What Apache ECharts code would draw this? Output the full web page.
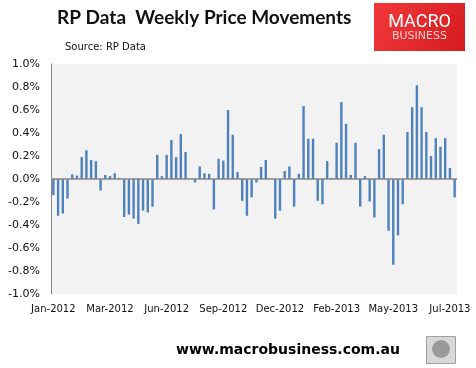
<!DOCTYPE html>
<html>
<head>
<meta charset="utf-8">
<script src="https://cdn.jsdelivr.net/npm/echarts@6/dist/echarts.min.js"></script>
<style>
html,body{margin:0;padding:0;background:#fff;}
#chart{width:476px;height:368px;}
</style>
</head>
<body>
<div id="chart"></div>
<script>
// Weekly price movements (%), Jan-2012 .. Jul-2013
var values = [
  -0.14, -0.32, -0.30, -0.17, 0.04, 0.03, 0.19, 0.25, 0.165, 0.155,
  -0.10, 0.035, 0.025, 0.05, 0.01, -0.33, -0.31, -0.345, -0.39, -0.275,
  -0.29, -0.24, 0.21, 0.025, 0.21, 0.34, 0.19, 0.39, 0.235, 0,
  -0.03, 0.11, 0.05, 0.045, -0.265, 0.175, 0.16, 0.60, 0.385, 0.06,
  -0.19, -0.32, -0.16, -0.03, 0.105, 0.165, 0, -0.345, -0.275, 0.07,
  0.11, -0.24, 0.045, 0.635, 0.35, 0.35, -0.19, -0.22, 0.155, 0.01,
  0.315, 0.67, 0.48, 0.035, 0.315, -0.24, 0.025, -0.195, -0.335, 0.26,
  0.385, -0.45, -0.745, -0.49, -0.22, 0.41, 0.625, 0.815, 0.625, 0.41,
  0.20, 0.355, 0.28, 0.355, 0.095, -0.16
];
// x tick labels, one every 12 weeks starting at the first week
var tickLabels = ['Jan-2012', 'Mar-2012', 'Jun-2012', 'Sep-2012', 'Dec-2012', 'Feb-2013', 'May-2013', 'Jul-2013'];
var tickEvery = 12;
var categories = values.map(function (v, i) { return 'Week ' + (i + 1); });
var yTicks = { min: -1.0, max: 1.0, step: 0.2 };

var chart = echarts.init(document.getElementById('chart'), null, { renderer: 'canvas' });
chart.setOption({
  animation: false,
  backgroundColor: '#ffffff',
  grid: { left: 51, right: 19, top: 64, bottom: 74, show: true, backgroundColor: '#F2F2F2', borderWidth: 0 },
  xAxis: {
    type: 'category',
    data: categories,
    boundaryGap: true,
    axisLine: { show: false, onZero: false },
    axisTick: { show: false },
    splitLine: { show: false },
    axisLabel: {
      interval: tickEvery - 1,
      margin: 10,
      fontFamily: 'DejaVu Sans',
      fontSize: 10,
      color: '#111',
      formatter: function (v, i) { return tickLabels[Math.round(i / tickEvery)] || ''; }
    }
  },
  yAxis: {
    type: 'value',
    min: yTicks.min, max: yTicks.max, interval: yTicks.step,
    axisLine: { show: true, lineStyle: { color: '#868686', width: 1 } },
    axisTick: { show: false },
    splitLine: { show: false },
    axisLabel: {
      margin: 11,
      fontFamily: 'DejaVu Sans',
      fontSize: 11,
      color: '#111',
      formatter: function (v) { return (Math.abs(v) < 1e-9 ? 0 : v).toFixed(1) + '%'; }
    }
  },
  series: [{
    type: 'bar',
    data: values,
    barWidth: 2.4,
    itemStyle: { color: '#4F81BD' },
    markLine: {
      silent: true,
      symbol: 'none',
      label: { show: false },
      lineStyle: { color: '#868686', width: 1.5, type: 'solid' },
      data: [{ yAxis: 0 }]
    }
  }],
  graphic: [
    { type: 'text', left: 57, top: 8, z: 10, style: { text: 'RP Data  Weekly Price Movements', font: 'bold 19px Lato', fill: '#111' } },
    { type: 'text', left: 65, top: 42, style: { text: 'Source: RP Data', font: '10px "DejaVu Sans"', fill: '#111' } },
    { type: 'rect', left: 374, top: 3, shape: { width: 91, height: 48 },
      style: { fill: new echarts.graphic.LinearGradient(0, 0, 1, 1, [{ offset: 0, color: '#F2383A' }, { offset: 1, color: '#D41C1E' }]) } },
    { type: 'text', x: 419.5, y: 13, style: { text: 'MACRO', font: '18px Roboto', fill: '#ffffff', align: 'center', verticalAlign: 'top' } },
    { type: 'text', x: 419.5, y: 31, style: { text: 'BUSINESS', font: '11px "DejaVu Sans"', fill: '#F6CFCF', align: 'center', verticalAlign: 'top' } },
    { type: 'text', left: 176, top: 343, style: { text: 'www.macrobusiness.com.au', font: 'bold 14px "DejaVu Sans"', fill: '#000' } },
    { type: 'rect', left: 426, top: 336, shape: { width: 29, height: 27 }, style: { fill: '#D8D8D8', stroke: '#A0A0A0', lineWidth: 1 } },
    { type: 'circle', left: 432, top: 340, shape: { r: 9 }, style: { fill: '#9A9A9A' } }
  ]
});
</script>
</body>
</html>
